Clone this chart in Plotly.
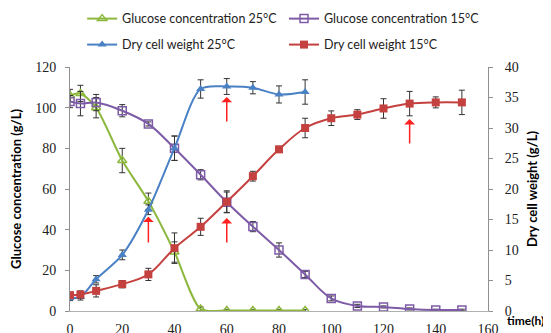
import plotly.graph_objects as go

time_g25 = [0, 4, 10, 20, 30, 40, 50, 60, 70, 80, 90]
glucose_25 = [106, 107, 100, 74, 54, 29, 1, 0.3, 0.3, 0.3, 0.3]
glucose_25_err = [3, 4, 5, 6, 4, 5, 1, 0.5, 0.5, 0.5, 0.5]

time_g15 = [0, 4, 10, 20, 30, 40, 50, 60, 70, 80, 90, 100, 110, 120, 130, 140, 150]
glucose_15 = [103, 102, 102.5, 98.5, 92, 80, 67, 53.5, 41.5, 30, 18, 6.2, 2.5, 2, 1, 0.5, 0.5]
glucose_15_err = [3, 6, 4, 3, 1, 6, 2.5, 5, 2.5, 3.5, 1.5, 1.2, 0.8, 0.5, 0.5, 0.4, 0.4]

time_d25 = [0, 4, 10, 20, 30, 40, 50, 60, 70, 80, 90]
dcw_25 = [2.1, 2.3, 5.2, 9.2, 16.6, 26.7, 36.4, 36.8, 36.6, 35.5, 35.9]
dcw_25_err = [0.4, 0.5, 0.6, 0.8, 0.8, 2.0, 1.5, 1.3, 1.0, 1.4, 2.0]

time_d15 = [0, 4, 10, 20, 30, 40, 50, 60, 70, 80, 90, 100, 110, 120, 130, 140, 150]
dcw_15 = [2.6, 2.7, 3.3, 4.4, 6.0, 10.3, 13.8, 17.9, 22.1, 26.5, 30.0, 31.6, 32.2, 33.2, 34.0, 34.2, 34.2]
dcw_15_err = [0.4, 0.6, 1.0, 0.6, 1.0, 2.5, 1.4, 1.8, 0.8, 0.5, 1.6, 1.2, 0.8, 1.6, 2.0, 0.9, 2.0]

arrow_x = [30, 60, 60, 130]
arrow_head = [46.4, 45.7, 105.3, 94.4]
arrow_tail = [33, 33, 92.5, 81.7]

x_ticks = [0, 20, 40, 60, 80, 100, 120, 140, 160]

GREEN = "#8DB83E"
PURPLE = "#7D5BA6"
BLUE = "#4A80C4"
RED = "#C4413F"

err_style = dict(type="data", color="#333333", thickness=1, width=3)

fig = go.Figure()
fig.add_trace(go.Scatter(
    x=time_g25, y=glucose_25, name="Glucose concentration 25°C", legend="legend",
    mode="lines+markers", line=dict(color=GREEN, width=2, shape="spline", smoothing=0.7),
    marker=dict(symbol="triangle-up-open", size=8, color=GREEN, line=dict(width=1.5)),
    error_y=dict(array=glucose_25_err, **err_style), yaxis="y"))
fig.add_trace(go.Scatter(
    x=time_g15, y=glucose_15, name="Glucose concentration 15°C", legend="legend2",
    mode="lines+markers", line=dict(color=PURPLE, width=2, shape="spline"),
    marker=dict(symbol="square-open", size=8, color=PURPLE, line=dict(width=1.5)),
    error_y=dict(array=glucose_15_err, **err_style), yaxis="y"))
fig.add_trace(go.Scatter(
    x=time_d25, y=dcw_25, name="Dry cell weight 25°C", legend="legend3",
    mode="lines+markers", line=dict(color=BLUE, width=2, shape="spline", smoothing=0.8),
    marker=dict(symbol="triangle-up", size=8, color=BLUE),
    error_y=dict(array=dcw_25_err, **err_style), yaxis="y2"))
fig.add_trace(go.Scatter(
    x=time_d15, y=dcw_15, name="Dry cell weight 15°C", legend="legend4",
    mode="lines+markers", line=dict(color=RED, width=2, shape="spline"),
    marker=dict(symbol="square", size=8, color=RED),
    error_y=dict(array=dcw_15_err, **err_style), yaxis="y2"))

annotations = []
for xa, yh, yt in zip(arrow_x, arrow_head, arrow_tail):
    annotations.append(dict(
        x=xa, y=yh, ax=xa, ay=yt, xref="x", yref="y", axref="x", ayref="y",
        showarrow=True, arrowhead=1, arrowsize=1.2, arrowwidth=1.5,
        arrowcolor="#FF2020", text=""))
annotations.append(dict(
    x=1.0, y=0, xref="paper", yref="paper", xanchor="left", yanchor="middle",
    xshift=17, yshift=-9, showarrow=False, text="<b>time(h)</b>",
    font=dict(family="Lato, Open Sans, sans-serif", size=12, color="#000")))

tick_font = dict(family="Liberation Serif, Times New Roman, serif", size=14, color="#222")
title_font = dict(family="Lato, Open Sans, sans-serif", size=13, color="#000")
legend_font = dict(family="Lato, Open Sans, sans-serif", size=12.5, color="#222")

legend_common = dict(
    orientation="h", xref="paper", yref="container", xanchor="left",
    yanchor="middle", itemwidth=30, font=legend_font, bgcolor="rgba(0,0,0,0)")

COL1_X, COL2_X = 0.029, 0.512
ROW1_Y, ROW2_Y = 0.967, 0.889

fig.update_layout(
    width=551, height=333,
    margin=dict(l=62, r=71, t=59, b=30, autoexpand=False),
    paper_bgcolor="white", plot_bgcolor="white",
    showlegend=True,
    legend=dict(x=COL1_X, y=ROW1_Y, **legend_common),
    legend2=dict(x=COL2_X, y=ROW1_Y, **legend_common),
    legend3=dict(x=COL1_X, y=ROW2_Y, **legend_common),
    legend4=dict(x=COL2_X, y=ROW2_Y, **legend_common),
    xaxis=dict(
        range=[0, 160], tickvals=x_ticks, showgrid=False, zeroline=False,
        showline=True, linecolor="#B0B0B0", linewidth=1, ticks="",
        tickfont=tick_font, automargin=False, ticklabelstandoff=5),
    yaxis=dict(
        range=[0, 120], dtick=20, showgrid=False, zeroline=False,
        showline=True, linecolor="#909090", linewidth=1, ticks="outside",
        ticklen=4, tickcolor="#909090", tickfont=tick_font, automargin=False,
        ticklabelstandoff=6,
        title=dict(text="<b>Glucose concentration (g/L)</b>", font=title_font, standoff=12)),
    yaxis2=dict(
        range=[0, 40], dtick=5, overlaying="y", side="right", showgrid=False,
        zeroline=False, showline=True, linecolor="#909090", linewidth=1,
        ticks="outside", ticklen=4, tickcolor="#909090", tickfont=tick_font,
        automargin=False, ticklabelstandoff=9,
        title=dict(text="<b>Dry cell weight (g/L)</b>", font=title_font, standoff=10)),
    annotations=annotations,
)

fig.write_html("out.html")
